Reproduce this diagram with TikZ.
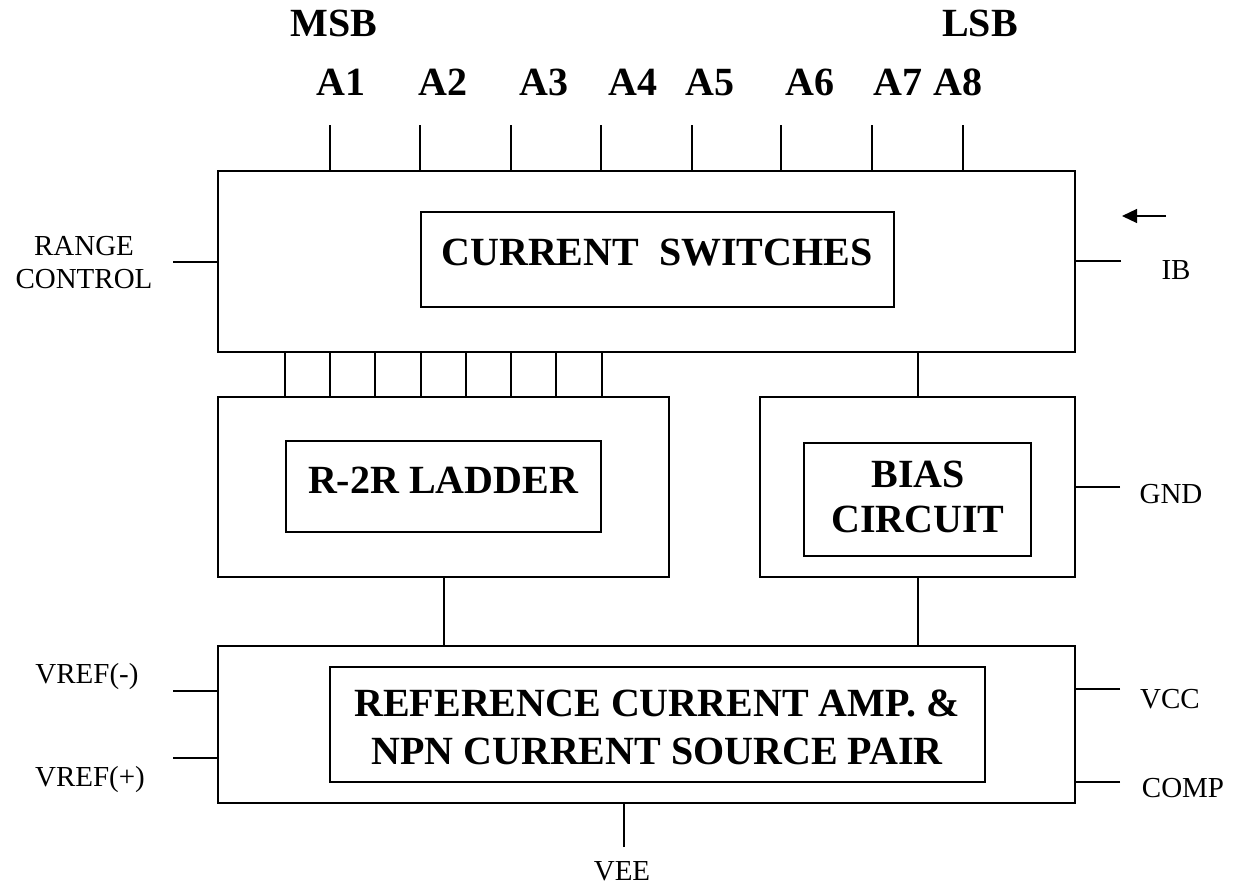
\documentclass[tikz,border=0pt]{standalone}
\usepackage{fontspec}
\setmainfont{Liberation Serif}
\usetikzlibrary{arrows.meta}
\begin{document}
\begin{tikzpicture}[x=1pt,y=-1pt,
  blk/.style={draw,line width=1.3pt,anchor=north west,inner sep=0pt,outer sep=0pt},
  wire/.style={line width=1.3pt},
  btxt/.style={anchor=base,inner sep=0pt,font=\fontsize{40}{48}\selectfont\bfseries},
  ltxt/.style={anchor=base,inner sep=0pt,font=\fontsize{29}{33}\selectfont},
  pinarrow/.style={line width=1.3pt,-{Triangle[length=15pt,width=14pt]}}]
\useasboundingbox (0,0) rectangle (1241,891);
% outer blocks
\node[blk,minimum width=857,minimum height=181] (sw) at (218,171) {};
\node[blk,minimum width=451,minimum height=180] (ld) at (218,397) {};
\node[blk,minimum width=315,minimum height=180] (bs) at (760,397) {};
\node[blk,minimum width=857,minimum height=157] (rf) at (218,646) {};
% inner blocks
\node[blk,minimum width=473,minimum height=95] (swi) at (421,212) {};
\node[blk,minimum width=315,minimum height=91] (ldi) at (286,441) {};
\node[blk,minimum width=227,minimum height=113] (bsi) at (804,443) {};
\node[blk,minimum width=655,minimum height=115] (rfi) at (330,667) {};
% block texts
\node[btxt] (tsw) at (657,265) {CURRENT~ SWITCHES};
\node[btxt] (tld) at (443,493) {R-2R LADDER};
\node[btxt] (tbs1) at (918,487) {BIAS};
\node[btxt] (tbs2) at (918,532) {CIRCUIT};
\node[btxt] (trf1) at (657,716) {REFERENCE CURRENT AMP. \&};
\node[btxt] (trf2) at (657,764) {NPN CURRENT SOURCE PAIR};
% top labels
\node[btxt] (msb) at (334,37) {MSB};
\node[btxt] (lsb) at (980,37) {LSB};
\foreach \n/\x/\lx in {1/330/341,2/420/443,3/511/544,4/601/633,5/692/710,6/781/810,7/872/898,8/963/958}{
  \node[btxt] (a\n) at (\lx,95) {A\n};
  \coordinate (p\n) at (\x,125);
  \draw[wire] (p\n) -- (p\n |- sw.north);
}
% switches to ladder
\foreach \n/\x in {1/285,2/330,3/375,4/421,5/466,6/511,7/556,8/602}{
  \coordinate (r\n) at (\x,0);
  \draw[wire] (sw.south -| r\n) -- (ld.north -| r\n);
}
\coordinate (cb) at (918,0);
\draw[wire] (sw.south -| cb) -- (bs.north -| cb);
\draw[wire] (bs.south -| cb) -- (rf.north -| cb);
\coordinate (cl) at (444,0);
\draw[wire] (ld.south -| cl) -- (rf.north -| cl);
% left pins
\coordinate (rc) at (173,262);
\draw[wire] (rc) -- (rc -| sw.west);
\node[ltxt,align=center] (trc) at (84,288) {RANGE\\[-0.5pt]CONTROL};
\coordinate (vm) at (173,691);
\draw[wire] (vm) -- (vm -| rf.west);
\node[ltxt] (tvm) at (87,683) {VREF(-)};
\coordinate (vp) at (173,758);
\draw[wire] (vp) -- (vp -| rf.west);
\node[ltxt] (tvp) at (90,786) {VREF(+)};
% right pins
\coordinate (ib) at (1121,261);
\draw[wire] (ib) -- (ib -| sw.east);
\node[ltxt] (tib) at (1176,279) {IB};
\coordinate (ia) at (1166,216);
\coordinate (ib2) at (1122,216);
\draw[pinarrow] (ia) -- (ib2);
\coordinate (gn) at (1120,487);
\draw[wire] (gn) -- (gn -| bs.east);
\node[ltxt] (tgn) at (1171,503) {GND};
\coordinate (vc) at (1120,689);
\draw[wire] (vc) -- (vc -| rf.east);
\node[ltxt] (tvc) at (1170,708) {VCC};
\coordinate (cp) at (1120,782);
\draw[wire] (cp) -- (cp -| rf.east);
\node[ltxt] (tcp) at (1183,797) {COMP};
% bottom pin
\coordinate (ve) at (624,847);
\draw[wire] (ve) -- (ve |- rf.south);
\node[ltxt] (tve) at (622,880) {VEE};
\end{tikzpicture}
\end{document}
